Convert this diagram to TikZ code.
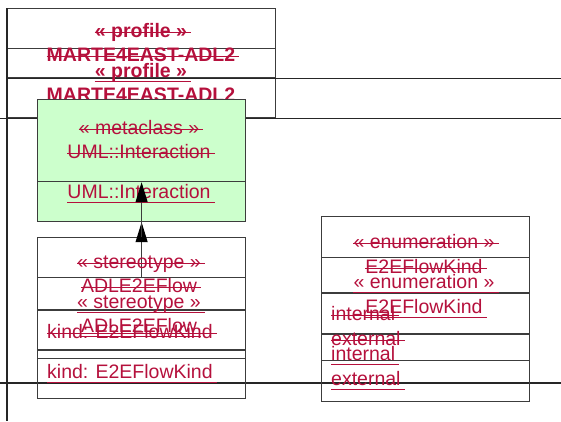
\documentclass[tikz,border=0pt]{standalone}
\usepackage{fontspec}
\setmainfont{Liberation Sans}
\usepackage{xcolor}
\definecolor{umlred}{HTML}{B5103C}
\definecolor{metagreen}{HTML}{CCFFCC}
\definecolor{umlgrey}{HTML}{3C3C3C}
\usetikzlibrary{arrows.meta,positioning}

\begin{document}
\begin{tikzpicture}[
x=1pt, y=-1pt,
frame/.style={draw=black!85, line width=1.3pt},
box/.style={rectangle, draw=umlgrey, line width=1.2pt, anchor=north west, inner sep=0pt, minimum width=208pt},
metabox/.style={box, fill=metagreen, minimum height=82pt},
txt/.style={text=umlred, inner sep=0pt, anchor=base, font=\fontsize{19.5}{23}\selectfont},
deco/.style={draw=umlred, line width=1.4pt},
% struck-through and underlined labels
strike/.style={append after command={\pgfextra{\draw [deco] ([yshift=4.5pt]\tikzlastnode.base west) -- ([xshift=4pt, yshift=4.5pt]\tikzlastnode.base east);}}},
uline/.style={append after command={\pgfextra{\draw [deco] ([yshift=-4.5pt]\tikzlastnode.base west) -- ([xshift=4pt, yshift=-4.5pt]\tikzlastnode.base east);}}},
head/.style={txt, font=\fontsize{19.5}{23}\selectfont\bfseries},
ext/.style={-{Triangle[length=20pt, width=12pt, black]}, draw=umlgrey, line width=1.2pt}
]
\useasboundingbox (0,0) rectangle (561,421);
% profile frames
\node (ptabA) [box, minimum width=268pt, minimum height=69pt] at (7,8) {};
\node (ptabB) [box, minimum width=268pt, minimum height=69pt] at (7,48) {};
\draw [frame] (ptabA.north west) -- ++(0,413);
\draw [frame] (ptabA.south west) -- ++(554,0);
\draw [frame] ([xshift=-7pt]ptabB.south west) -- ++(561,0);
\draw [frame] (0,383) -- (561,383);
\node (profA) [head, strike] at (141,37) {« profile »};
\node (marteA) [head, strike] at (141,61) {MARTE4EAST-ADL2};
\node (profB) [head, uline] at (141,77) {« profile »};
\node (marteB) [head, uline] at (141,101) {MARTE4EAST-ADL2};

% metaclass
\node (metaB) [metabox] at (37,139) {};
\node (metaA) [metabox] at (37,99) {};
\node (mkwA) [txt, strike] at (139,134) {« metaclass »};
\node (mnameA) [txt, strike] at (139,158) {UML::Interaction};
\node (mnameB) [txt, uline] at (139,198) {UML::Interaction};

% stereotype and enumeration
\node (stereoA) [box, minimum height=121pt] at (37,237) {};
\node (stereoB) [box, minimum height=121pt] at (37,277) {};
\draw [umlgrey, line width=1.2pt] ([yshift=-73pt]stereoA.north west) -- ([yshift=-73pt]stereoA.north east);
\draw [umlgrey, line width=1.2pt] ([yshift=-73pt]stereoB.north west) -- ([yshift=-73pt]stereoB.north east);
\node (enumA) [box, minimum height=144pt] at (321,216) {};
\node (enumB) [box, minimum height=144pt] at (321,257) {};
\draw [umlgrey, line width=1.2pt] ([yshift=-77pt]enumA.north west) -- ([yshift=-77pt]enumA.north east);
\draw [umlgrey, line width=1.2pt] ([yshift=-77pt]enumB.north west) -- ([yshift=-77pt]enumB.north east);

\draw [ext] (stereoB.north) -- (metaB.south);
\draw [ext] (stereoA.north) -- (metaA.south);

\node (skwA) [txt, strike] at (139,268) {« stereotype »};
\node (snameA) [txt, strike] at (139,292) {ADLE2EFlow};
\node (skwB) [txt, uline] at (139,308) {« stereotype »};
\node (snameB) [txt, uline] at (139,332) {ADLE2EFlow};
\node (attrA) [txt, strike, anchor=base west] at (47,338) {kind: E2EFlowKind};
\node (attrB) [txt, uline, anchor=base west] at (47,378) {kind: E2EFlowKind};

\node (ekwA) [txt, strike] at (424,248) {« enumeration »};
\node (enameA) [txt, strike] at (424,273) {E2EFlowKind};
\node (ekwB) [txt, uline] at (424,288) {« enumeration »};
\node (enameB) [txt, uline] at (424,313) {E2EFlowKind};
\node (litA1) [txt, strike, anchor=base west] at (331,320) {internal};
\node (litA2) [txt, strike, anchor=base west] at (331,345) {external};
\node (litB1) [txt, uline, anchor=base west] at (331,360) {internal};
\node (litB2) [txt, uline, anchor=base west] at (331,385) {external};
\end{tikzpicture}
\end{document}
